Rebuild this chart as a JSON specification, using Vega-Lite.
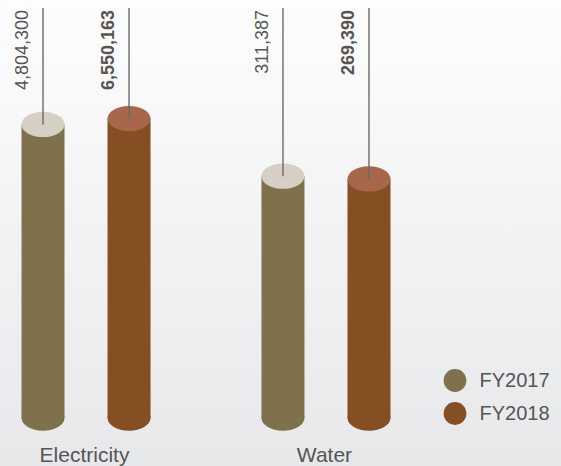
{
  "$schema": "https://vega.github.io/schema/vega-lite/v6.json",
  "width": 561,
  "height": 466,
  "autosize": "none",
  "padding": 0,
  "background": "#e8e9ea",
  "config": {"view": {"stroke": null}, "font": "Liberation Sans"},
  "layer": [
    {
      "data": {"values": [{}]},
      "mark": {
        "type": "rect",
        "fill": {
          "gradient": "linear",
          "x1": 0, "y1": 0, "x2": 0, "y2": 1,
          "stops": [
            {"offset": 0, "color": "#fdfdfd"},
            {"offset": 1, "color": "#e7e8e9"}
          ]
        }
      },
      "encoding": {}
    },
    {
      "data": {
        "values": [
          {"category": "Electricity", "year": "FY2017", "value": 4804300},
          {"category": "Electricity", "year": "FY2018", "value": 6550163},
          {"category": "Water", "year": "FY2017", "value": 311387},
          {"category": "Water", "year": "FY2018", "value": 269390}
        ]
      },
      "encoding": {
        "x": {
          "field": "category",
          "type": "nominal",
          "scale": {"range": [0, 412], "paddingInner": 0.283, "paddingOuter": 0},
          "axis": {
            "title": null,
            "orient": "bottom",
            "offset": -36,
            "zindex": 2,
            "domain": false,
            "ticks": false,
            "tickSize": 0,
            "grid": false,
            "labelPadding": 31,
            "labelBaseline": "alphabetic",
            "labelFontSize": 21,
            "labelColor": "#555555",
            "labelAngle": 0,
            "labelOffset": -1.5
          }
        },
        "xOffset": {
          "field": "year",
          "type": "nominal",
          "scale": {"paddingInner": 0, "paddingOuter": 0}
        }
      },
      "layer": [
        {
          "mark": {
            "type": "point",
            "shape": "M -1 0 A 1 0.59 0 1 0 1 0 A 1 0.59 0 1 0 -1 0 Z",
            "size": 1849,
            "filled": true,
            "opacity": 1,
            "strokeWidth": 0
          },
          "encoding": {
            "y": {
              "datum": 0.86,
              "type": "quantitative",
              "scale": {"type": "log", "domain": [0.86, 3480000000], "range": [418, 0], "nice": false, "zero": false},
              "axis": null
            },
            "color": {
              "field": "year",
              "type": "nominal",
              "scale": {"domain": ["FY2017", "FY2018"], "range": ["#7f714b", "#834f23"]},
              "legend": {
                "title": null,
                "orient": "none",
                "legendX": 443.5,
                "legendY": 369,
                "symbolType": "circle",
                "symbolSize": 518,
                "symbolStrokeWidth": 0,
                "labelFontSize": 20,
                "labelColor": "#555555",
                "labelOffset": 13,
                "rowPadding": 10,
                "padding": 0
              }
            }
          }
        },
        {
          "mark": {"type": "rule", "strokeWidth": 43, "strokeCap": "butt"},
          "encoding": {
            "y": {"field": "value", "type": "quantitative", "axis": null},
            "y2": {"datum": 0.86},
            "stroke": {
              "condition": {"test": "datum.year === 'FY2017'", "value": "#7f714b"},
              "value": "#834f23"
            }
          }
        },
        {
          "mark": {
            "type": "point",
            "shape": "M -1 0 A 1 0.59 0 1 0 1 0 A 1 0.59 0 1 0 -1 0 Z",
            "size": 1849,
            "filled": true,
            "opacity": 1,
            "strokeWidth": 0
          },
          "encoding": {
            "y": {"field": "value", "type": "quantitative", "axis": null},
            "fill": {
              "condition": {"test": "datum.year === 'FY2017'", "value": "#d5d0c3"},
              "value": "#a8664a"
            }
          }
        },
        {
          "mark": {"type": "rule", "stroke": "#6a6a6a", "strokeWidth": 1.4},
          "encoding": {
            "y": {"field": "value", "type": "quantitative", "axis": null},
            "y2": {"datum": 2280000000}
          }
        },
        {
          "transform": [{"filter": "datum.year === 'FY2017'"}],
          "mark": {
            "type": "text",
            "angle": 270,
            "align": "right",
            "baseline": "alphabetic",
            "dy": -15,
            "fontSize": 18,
            "fill": "#555555"
          },
          "encoding": {
            "y": {"datum": 2050000000, "type": "quantitative", "axis": null},
            "text": {"field": "value", "type": "quantitative", "format": ","}
          }
        },
        {
          "transform": [{"filter": "datum.year === 'FY2018'"}],
          "mark": {
            "type": "text",
            "angle": 270,
            "align": "right",
            "baseline": "alphabetic",
            "dy": -15,
            "fontSize": 18,
            "fontWeight": "bold",
            "fill": "#555555"
          },
          "encoding": {
            "y": {"datum": 2050000000, "type": "quantitative", "axis": null},
            "text": {"field": "value", "type": "quantitative", "format": ","}
          }
        }
      ]
    }
  ]
}
